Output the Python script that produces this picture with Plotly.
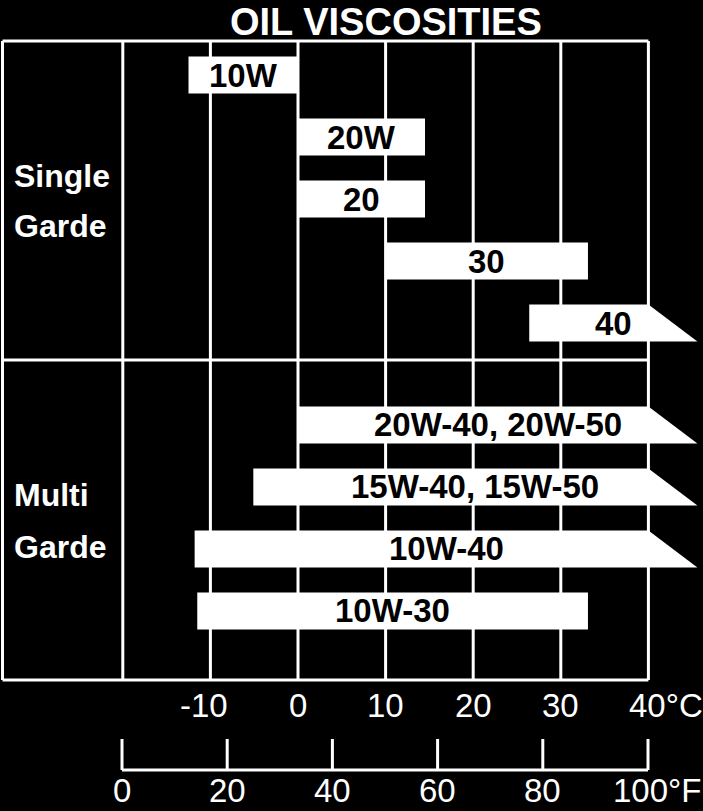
import plotly.graph_objects as go

# ---------------- data ----------------
grades = ["10W", "20W", "20", "30", "40",
          "20W-40, 20W-50", "15W-40, 15W-50", "10W-40", "10W-30"]
groups = ["Single", "Single", "Single", "Single", "Single",
          "Multi", "Multi", "Multi", "Multi"]
low_c = [-12.5, 0, 0, 10, 26.4, 0, -5.1, -11.8, -11.5]
high_c = [0, 14.5, 14.5, 33.1, 40, 40, 40, 40, 33.1]
open_end = [False, False, False, False, True, True, True, True, False]

group_lines = [["Single", "Garde"], ["Multi", "Garde"]]
c_ticks = [-10, 0, 10, 20, 30, 40]
c_labels = ["-10", "0", "10", "20", "30", "40°C"]
grid_c = [-20, -10, 0, 10, 20, 30, 40]
f_ticks = [0, 20, 40, 60, 80, 100]
f_labels = ["0", "20", "40", "60", "80", "100°F"]
title = "OIL VISCOSITIES"

# ---------------- layout constants ----------------
W, H = 703, 811
PX_C = 8.76          # px per degC
X0 = 298             # px of 0 degC
PX_F = 5.26          # px per degF on the lower scale
F0 = 122             # px of 0 degF
ROW = 62.0           # px per row unit
ROW0 = 75            # px of first row centre
FONT = "Liberation Sans, Arial, sans-serif"

xr = [-X0 / PX_C, (W - X0) / PX_C]
x2r = [-F0 / PX_F, (W - F0) / PX_F]
yr = [(H - ROW0) / ROW, -ROW0 / ROW]


def ypx(p):
    return (p - ROW0) / ROW


half = 18.5 / ROW
arrow = 49 / PX_C
multi_offset = 5.645

fig = go.Figure()

# row positions
rows = []
si = mi = 0
for g in groups:
    if g == "Single":
        rows.append(float(si)); si += 1
    else:
        rows.append(multi_offset + mi); mi += 1

# bars
annotations = []
for name, lo, hi, op, r in zip(grades, low_c, high_c, open_end, rows):
    tip = hi + arrow if op else hi
    xs = [lo, hi, tip, lo, lo]
    ys = [r - half, r - half, r + half, r + half, r - half]
    fig.add_trace(go.Scatter(x=xs, y=ys, mode="lines", fill="toself",
                             fillcolor="white", line=dict(width=0, color="white"),
                             hoverinfo="skip", showlegend=False))
    annotations.append(dict(x=(lo + tip) / 2, y=r, xref="x", yref="y",
                            text=name, showarrow=False,
                            font=dict(family=FONT, size=33, color="black", weight="bold"),
                            xanchor="center", yanchor="middle"))

# frame and grid
left = (2.5 - X0) / PX_C
top, bottom, divider = ypx(41), ypx(680), ypx(360)
shapes = []
line = dict(color="white", width=3)
for gx in grid_c:
    shapes.append(dict(type="line", xref="x", yref="y", x0=gx, x1=gx, y0=top, y1=bottom,
                       line=line, layer="below"))
shapes.append(dict(type="line", xref="x", yref="y", x0=left, x1=left, y0=top, y1=bottom,
                   line=line, layer="below"))
for yy in [top, divider, bottom]:
    shapes.append(dict(type="line", xref="x", yref="y", x0=left, x1=40, y0=yy, y1=yy,
                       line=line, layer="below"))

# Fahrenheit scale
ft_top, ft_base = ypx(739), ypx(770)
fx, fy = [f_ticks[0], f_ticks[-1]], [ft_base, ft_base]
for t in f_ticks:
    fx += [None, t, t]
    fy += [None, ft_top, ft_base]
fig.add_trace(go.Scatter(x=fx, y=fy, xaxis="x2", mode="lines",
                         line=dict(color="white", width=3),
                         hoverinfo="skip", showlegend=False))

# Celsius labels
lab_font = dict(family=FONT, size=33, color="white")
for t, lab in zip(c_ticks, c_labels):
    if "°" in lab:
        annotations.append(dict(x=t, y=ypx(705), xref="x", yref="y", text=lab,
                                showarrow=False, font=lab_font, xanchor="left",
                                xshift=-21, yanchor="middle"))
    else:
        annotations.append(dict(x=t, y=ypx(705), xref="x", yref="y", text=lab,
                                showarrow=False, font=lab_font, xanchor="center",
                                xshift=-6 if t < 0 else 0, yanchor="middle"))
for t, lab in zip(f_ticks, f_labels):
    if "°" in lab:
        annotations.append(dict(x=t, y=ypx(790), xref="x2", yref="y", text=lab,
                                showarrow=False, font=lab_font, xanchor="left",
                                xshift=-36, yanchor="middle", borderpad=0))
    else:
        annotations.append(dict(x=t, y=ypx(790), xref="x2", yref="y", text=lab,
                                showarrow=False, font=lab_font, xanchor="center",
                                yanchor="middle", borderpad=0))

# group labels
grp_font = dict(family=FONT, size=32, color="white", weight="bold")
for lines, cys in zip(group_lines, [[176, 226], [495, 547]]):
    for txt, cy in zip(lines, cys):
        annotations.append(dict(x=12 / W, y=1 - cy / H, xref="paper", yref="paper",
                                text=txt, showarrow=False, font=grp_font,
                                xanchor="left", yanchor="middle", align="left"))

# title
annotations.append(dict(x=386 / W, y=1 - 22 / H, xref="paper", yref="paper",
                        text=title, showarrow=False, borderpad=0,
                        font=dict(family=FONT, size=38, color="white", weight="bold"),
                        xanchor="center", yanchor="middle"))

fig.update_layout(
    width=W, height=H,
    margin=dict(l=0, r=0, t=0, b=0),
    paper_bgcolor="black", plot_bgcolor="black",
    xaxis=dict(range=xr, visible=False, fixedrange=True),
    xaxis2=dict(range=x2r, overlaying="x", visible=False, fixedrange=True),
    yaxis=dict(range=yr, visible=False, fixedrange=True),
    shapes=shapes, annotations=annotations,
    showlegend=False,
)

fig.write_html(
    "out.html",
    config={"displayModeBar": False},
    post_script="document.body.style.margin='0';document.body.style.padding='0';"
                "document.body.style.overflow='hidden';"
                "document.documentElement.style.overflow='hidden';",
)
